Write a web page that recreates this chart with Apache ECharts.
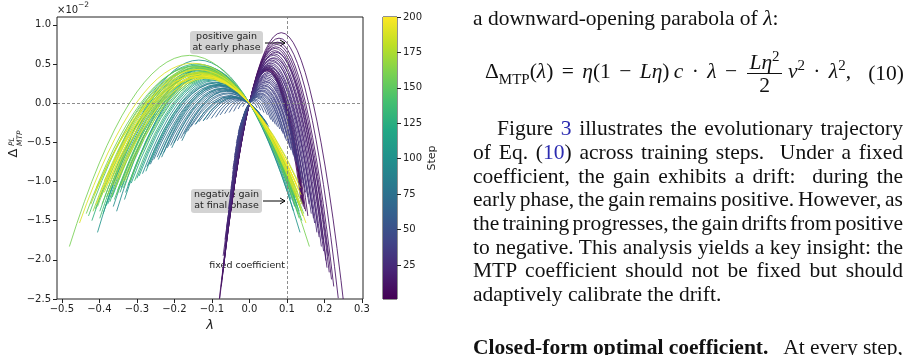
<!DOCTYPE html>
<html>
<head>
<meta charset="utf-8">
<script src="https://cdn.jsdelivr.net/npm/echarts@6/dist/echarts.min.js"></script>
<style>
  body { margin: 0; background: #fff; }
  #main { position: absolute; left: 0; top: 0; width: 919px; height: 355px; }
  #text { position: absolute; left: 0; top: 0; width: 919px; height: 355px; font-family: 'Liberation Serif', serif; font-size: 21.5px; color: #111; }
  .ln { position: absolute; left: 473px; width: 430px; line-height: 24px; white-space: nowrap; }
  .jl { text-align: justify; text-align-last: justify; word-spacing: -2.5px; }
  .ref { color: #2b2bb0; }
  .eq { position: absolute; left: 485px; width: 419px; top: 50px; height: 46px; display: flex; align-items: center; justify-content: space-between; white-space: nowrap; }
  .eq .ex { word-spacing: 3px; }
  .frac { display: inline-flex; flex-direction: column; align-items: center; vertical-align: middle; margin: 0 2px; line-height: 22px; word-spacing: 0; }
  .frac .num { border-bottom: 1px solid #111; padding: 0 2px; }
  sub, sup { font-size: 15px; line-height: 0; }
</style>
</head>
<body>
<div id="main"></div>
<div id="text">
  <div class="ln" style="top:6px">a downward-opening parabola of <i>λ</i>:</div>
  <div class="eq">
    <span class="ex">Δ<sub>MTP</sub>(<i>λ</i>) = <i>η</i>(1 − <i>Lη</i>)&thinsp;<i>c</i> · <i>λ</i> − <span class="frac"><span class="num"><i>Lη</i><sup>2</sup></span><span>2</span></span>&thinsp;<i>v</i><sup>2</sup> · <i>λ</i><sup>2</sup>,</span>
    <span>(10)</span>
  </div>
  <div class="ln jl" style="top:116px;left:497px;width:406px">Figure <span class="ref">3</span> illustrates the evolutionary trajectory</div>
  <div class="ln jl" style="top:140px">of Eq. (<span class="ref">10</span>) across training steps. &nbsp;Under a fixed</div>
  <div class="ln jl" style="top:164px">coefficient, the gain exhibits a drift: &nbsp;during the</div>
  <div class="ln jl" style="top:187px">early phase, the gain remains positive. However, as</div>
  <div class="ln jl" style="top:211px">the training progresses, the gain drifts from positive</div>
  <div class="ln jl" style="top:235px">to negative. This analysis yields a key insight: the</div>
  <div class="ln jl" style="top:258px">MTP coefficient should not be fixed but should</div>
  <div class="ln" style="top:282px">adaptively calibrate the drift.</div>
  <div class="ln jl" style="top:335px"><b>Closed-form optimal coefficient.</b> &nbsp; At every step,</div>
</div>
<script>
// axis ticks
const xTicks = [-0.5, -0.4, -0.3, -0.2, -0.1, 0, 0.1, 0.2, 0.3]
const stepTicks = [25, 50, 75, 100, 125, 150, 175, 200]

// one parabola per training step: peak position (lambda) and peak gain (x1e-2)
const steps = [
  1, 2, 3, 4, 5, 6, 7, 8, 9, 10, 11, 12, 13, 14, 15, 16, 17, 18, 19, 20,
  21, 22, 23, 24, 25, 26, 27, 28, 29, 30, 31, 32, 33, 34, 35, 36, 37, 38, 39, 40,
  41, 42, 43, 44, 45, 46, 47, 48, 49, 50, 51, 52, 53, 54,
  55, 56, 57, 58, 59, 60, 61, 62, 63, 64, 65, 66, 67, 68, 69, 70,
  71, 72, 73, 74, 75, 76, 77, 78, 79, 80,
  81, 83, 85, 87, 89, 91, 93, 95, 97, 99, 101, 103, 105, 107, 109, 111, 113, 115, 117, 119,
  121, 123, 125, 127, 129, 131, 133, 135, 137, 139, 141, 143, 145, 147, 149, 151, 153, 155, 157, 159,
  161, 163, 165, 167, 169, 171, 173, 175, 177, 179, 181, 183, 185, 187, 189, 191, 193, 195, 197, 199
]
const peakLambda = [
  0.048, 0.047, 0.049, 0.046, 0.048, 0.050, 0.047, 0.052, 0.085, 0.079, 0.075, 0.073, 0.071, 0.069, 0.068, 0.070, 0.066, 0.064, 0.065, 0.062,
  0.060, 0.061, 0.058, 0.057, 0.055, 0.056, 0.053, 0.052, 0.050, 0.049, 0.047, 0.046, 0.045, 0.044, 0.043, 0.041, 0.040, 0.039, 0.037, 0.036,
  0.035, 0.033, 0.032, 0.030, 0.029, 0.027, 0.025, 0.023, 0.021, 0.019, 0.016, 0.013, 0.010, 0.007,
  -0.006, -0.010, -0.014, -0.018, -0.022, -0.026, -0.030, -0.034, -0.038, -0.041, -0.045, -0.048, -0.052, -0.055, -0.058, -0.061,
  -0.064, -0.067, -0.070, -0.073, -0.076, -0.079, -0.082, -0.085, -0.088, -0.091,
  -0.048, -0.060, -0.041, -0.069, -0.078, -0.081, -0.095, -0.118, -0.089, -0.121, -0.110, -0.135, -0.111, -0.100, -0.126, -0.092, -0.114, -0.130, -0.105, -0.122,
  -0.098, -0.128, -0.115, -0.140, -0.108, -0.124, -0.133, -0.117, -0.102, -0.133, -0.120, -0.143, -0.112, -0.127, -0.137, -0.118, -0.131, -0.106, -0.145, -0.160,
  -0.123, -0.135, -0.114, -0.139, -0.126, -0.119, -0.132, -0.141, -0.111, -0.129, -0.136, -0.121, -0.129, -0.138, -0.151, -0.124, -0.136, -0.117, -0.131, -0.127
]
const peakGain = [
  0.44, 0.43, 0.45, 0.42, 0.43, 0.46, 0.41, 0.48, 0.90, 0.83, 0.78, 0.75, 0.72, 0.70, 0.67, 0.65, 0.63, 0.61, 0.58, 0.57,
  0.55, 0.53, 0.51, 0.49, 0.47, 0.45, 0.43, 0.40, 0.38, 0.36, 0.34, 0.32, 0.30, 0.28, 0.27, 0.25, 0.23, 0.22, 0.20, 0.19,
  0.17, 0.16, 0.15, 0.13, 0.12, 0.11, 0.10, 0.09, 0.08, 0.07, 0.05, 0.04, 0.03, 0.02,
  0.015, 0.025, 0.035, 0.04, 0.045, 0.05, 0.06, 0.065, 0.07, 0.075, 0.08, 0.09, 0.10, 0.12, 0.13, 0.15,
  0.16, 0.17, 0.18, 0.19, 0.21, 0.22, 0.23, 0.24, 0.26, 0.27,
  0.09, 0.16, 0.075, 0.19, 0.23, 0.24, 0.30, 0.46, 0.26, 0.44, 0.38, 0.55, 0.41, 0.32, 0.43, 0.29, 0.36, 0.47, 0.34, 0.40,
  0.31, 0.44, 0.38, 0.50, 0.35, 0.42, 0.46, 0.37, 0.33, 0.49, 0.41, 0.48, 0.36, 0.40, 0.45, 0.39, 0.43, 0.33, 0.47, 0.61,
  0.40, 0.44, 0.35, 0.46, 0.39, 0.36, 0.40, 0.43, 0.33, 0.38, 0.36, 0.35, 0.33, 0.39, 0.51, 0.34, 0.43, 0.32, 0.37, 0.35
]

const viridis = ['#440154', '#482475', '#414487', '#355f8d', '#2a788e', '#21918c', '#22a884', '#44bf70', '#7ad151', '#bddf26', '#fde725']

function hexRgb (h) {
  return [1, 3, 5].map(i => parseInt(h.substr(i, 2), 16))
}

function stepColor (s) {
  const t = (s - 1) / 199 * 10
  const i = Math.min(9, Math.floor(t))
  const f = t - i
  const a = hexRgb(viridis[i])
  const b = hexRgb(viridis[i + 1])
  const c = a.map((v, k) => Math.round(v + (b[k] - v) * f))
  return 'rgb(' + c.join(',') + ')'
}

function minusFmt (v, d) {
  return v.toFixed(d).replace('-', '\u2212')
}

const font = 'DejaVu Sans'
const ink = '#222'

const chart = echarts.init(document.getElementById('main'))

chart.setOption({
  animation: false,
  grid: [
    { left: 57, top: 17, width: 306, height: 282, show: true, borderColor: ink, borderWidth: 1, backgroundColor: 'transparent' },
    { left: 383, top: 17, width: 14, height: 282, show: true, borderColor: ink, borderWidth: 1, backgroundColor: 'transparent' }
  ],
  xAxis: [
    {
      type: 'value',
      gridIndex: 0,
      min: -0.513,
      max: 0.303,
      name: 'λ',
      nameLocation: 'middle',
      nameGap: 15,
      nameTextStyle: { fontFamily: font, fontSize: 13, fontStyle: 'italic', color: ink },
      axisLine: { show: false, onZero: false },
      splitLine: { show: false },
      axisTick: { show: true, length: 4, lineStyle: { color: ink }, customValues: xTicks },
      axisLabel: { fontFamily: font, fontSize: 10, color: ink, margin: 5, customValues: xTicks, formatter: v => minusFmt(v, 1) }
    },
    { type: 'value', gridIndex: 1, min: 0, max: 1, show: false }
  ],
  yAxis: [
    {
      type: 'value',
      gridIndex: 0,
      min: -2.5,
      max: 1.1,
      interval: 0.5,
      axisLine: { show: false, onZero: false },
      splitLine: { show: false },
      axisTick: { show: true, length: 4, lineStyle: { color: ink } },
      axisLabel: { fontFamily: font, fontSize: 10, color: ink, margin: 6, formatter: v => minusFmt(v, 1) }
    },
    {
      type: 'value',
      gridIndex: 1,
      position: 'right',
      min: 1,
      max: 200,
      name: 'Step',
      nameLocation: 'middle',
      nameRotate: 90,
      nameGap: 30,
      nameTextStyle: { fontFamily: font, fontSize: 11, color: ink },
      axisLine: { show: false, onZero: false },
      splitLine: { show: false },
      axisTick: { show: true, length: 4, lineStyle: { color: ink }, customValues: stepTicks },
      axisLabel: { fontFamily: font, fontSize: 10, color: ink, margin: 6, customValues: stepTicks }
    }
  ],
  series: [
    {
      // each step's gain curve: parabola through the origin, drawn over [peak - 2|peak|, peak + 2|peak|]
      type: 'custom',
      xAxisIndex: 0,
      yAxisIndex: 0,
      clip: true,
      silent: true,
      encode: { x: 1, y: 2 },
      data: steps.map((s, i) => [s, peakLambda[i], peakGain[i]]),
      renderItem (params, api) {
        const s = api.value(0)
        const lp = api.value(1)
        const h = api.value(2)
        const w = 2 * Math.abs(lp)
        const p0 = api.coord([lp - w, -3 * h])
        const p1 = api.coord([lp + w, -3 * h])
        const cp = api.coord([lp, 5 * h])
        return {
          type: 'bezierCurve',
          shape: { x1: p0[0], y1: p0[1], x2: p1[0], y2: p1[1], cpx1: cp[0], cpy1: cp[1] },
          style: { stroke: stepColor(s), fill: null, lineWidth: 1, opacity: 0.85 }
        }
      }
    },
    {
      type: 'line',
      xAxisIndex: 0,
      yAxisIndex: 0,
      data: [],
      silent: true,
      markLine: {
        silent: true,
        symbol: ['none', 'none'],
        label: { show: false },
        lineStyle: { color: '#808080', width: 0.9, type: [3, 2] },
        data: [{ yAxis: 0 }, { xAxis: 0.1 }]
      }
    },
    {
      // colour bar
      type: 'custom',
      xAxisIndex: 1,
      yAxisIndex: 1,
      silent: true,
      data: [[0.5, 200]],
      renderItem (params, api) {
        const cs = params.coordSys
        const top = api.coord([0.5, 200])
        const bot = api.coord([0.5, 1])
        return {
          type: 'rect',
          shape: { x: cs.x, y: top[1], width: cs.width, height: bot[1] - top[1] },
          style: {
            fill: {
              type: 'linear', x: 0, y: 1, x2: 0, y2: 0,
              colorStops: viridis.map((c, i) => ({ offset: i / 10, color: c }))
            }
          }
        }
      }
    }
  ],
  graphic: [
    { type: 'text', left: 57, top: 5, style: { text: '×10', fontFamily: font, fontSize: 10, fill: ink } },
    { type: 'text', left: 78, top: 1, style: { text: '\u22122', fontFamily: font, fontSize: 7.5, fill: ink } },
    // y axis label
    { type: 'text', x: 14, y: 153, rotation: Math.PI / 2, style: { text: 'Δ', fontFamily: font, fontSize: 13, fill: ink, align: 'center', verticalAlign: 'middle' } },
    { type: 'text', x: 12, y: 146, rotation: Math.PI / 2, style: { text: 'PL', fontFamily: font, fontSize: 7.5, fontStyle: 'italic', fill: ink, align: 'left', verticalAlign: 'middle' } },
    { type: 'text', x: 20, y: 146, rotation: Math.PI / 2, style: { text: 'MTP', fontFamily: font, fontSize: 7.5, fontStyle: 'italic', fill: ink, align: 'left', verticalAlign: 'middle' } },
    // annotations
    { type: 'rect', shape: { x: 190, y: 31, width: 73, height: 23, r: 3 }, style: { fill: '#d3d3d3' } },
    { type: 'text', x: 226.5, y: 42.5, style: { text: 'positive gain\nat early phase', fontFamily: font, fontSize: 9.5, lineHeight: 11, fill: ink, align: 'center', verticalAlign: 'middle' } },
    { type: 'line', shape: { x1: 265, y1: 43, x2: 285, y2: 43 }, style: { stroke: '#000', lineWidth: 1 } },
    { type: 'polyline', shape: { points: [[280, 40], [285, 43], [280, 46]] }, style: { stroke: '#000', lineWidth: 1, fill: null } },
    { type: 'rect', shape: { x: 191, y: 189, width: 71, height: 24, r: 3 }, style: { fill: '#d3d3d3' } },
    { type: 'text', x: 226.5, y: 200.5, style: { text: 'negative gain\nat final phase', fontFamily: font, fontSize: 9.5, lineHeight: 11, fill: ink, align: 'center', verticalAlign: 'middle' } },
    { type: 'line', shape: { x1: 263, y1: 201, x2: 285, y2: 201 }, style: { stroke: '#000', lineWidth: 1 } },
    { type: 'polyline', shape: { points: [[280, 198], [285, 201], [280, 204]] }, style: { stroke: '#000', lineWidth: 1, fill: null } },
    { type: 'text', x: 285, y: 266, style: { text: 'fixed coefficient', fontFamily: font, fontSize: 9.5, fill: ink, align: 'right', verticalAlign: 'middle' } }
  ]
})
</script>
</body>
</html>
